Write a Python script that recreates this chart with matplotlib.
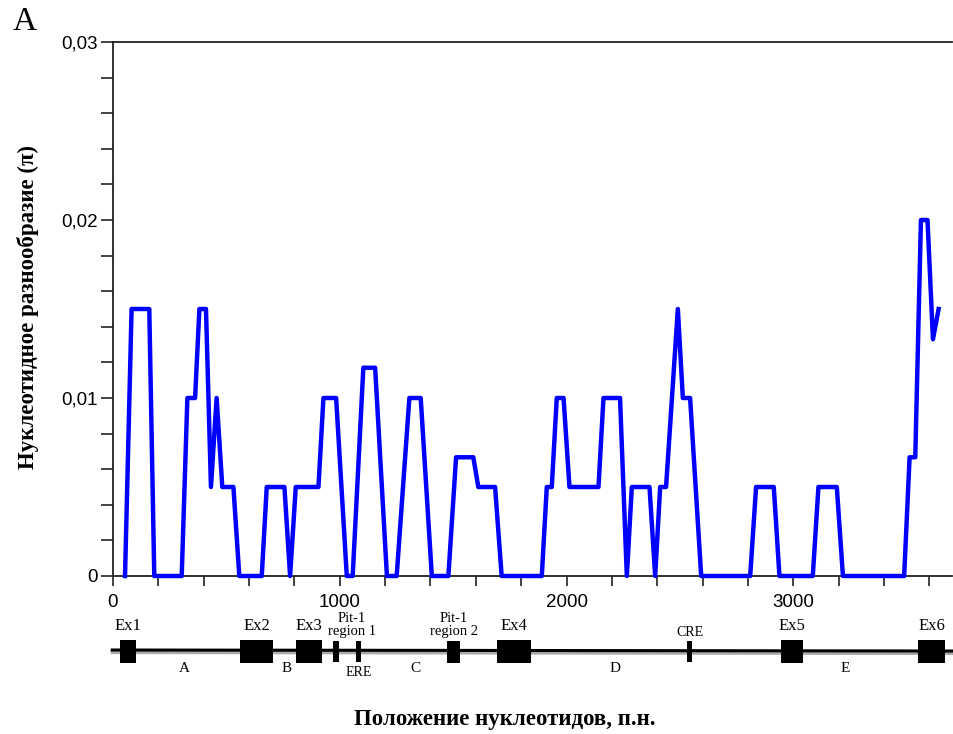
import matplotlib
matplotlib.use("Agg")
import matplotlib.pyplot as plt
from matplotlib.ticker import MultipleLocator, FuncFormatter

# ---- data ----
position = [53, 82, 160, 182, 303, 328, 362, 381, 410, 432, 457, 482, 531, 557,
            656, 678, 756, 781, 806, 906, 928, 984, 1031, 1057, 1104, 1156, 1208,
            1251, 1307, 1357, 1406, 1479, 1513, 1589, 1611, 1685, 1714, 1891, 1913,
            1935, 1957, 1987, 2013, 2141, 2163, 2236, 2266, 2288, 2366, 2391, 2413,
            2439, 2491, 2513, 2545, 2594, 2810, 2836, 2914, 2939, 3086, 3111, 3192,
            3219, 3489, 3513, 3538, 3563, 3592, 3616, 3641]
pi_values = [0, .015, .015, 0, 0, .01, .01, .015, .015, .005, .01, .005, .005, 0,
             0, .005, .005, 0, .005, .005, .01, .01, 0, 0, .0117, .0117, 0,
             0, .01, .01, 0, 0, .00667, .00667, .005, .005, 0, 0, .005,
             .005, .01, .01, .005, .005, .01, .01, 0, .005, .005, 0, .005,
             .005, .015, .01, .01, 0, 0, .005, .005, 0, 0, .005, .005,
             0, 0, .00667, .00667, .02, .02, .0133, .015]

# gene features: (name, start, end)
exons = [("Ex1", 31, 101), ("Ex2", 560, 707), ("Ex3", 806, 922),
         ("Ex4", 1693, 1842), ("Ex5", 2945, 3045), ("Ex6", 3552, 3670)]
pit_region2 = ("Pit-1\nregion 2", 1475, 1531)
small_elements = [("Pit-1\nregion 1", 972, 995), ("ERE", 1071, 1094), ("CRE", 2531, 2554)]
pit_region1_label_x = 1053
segments = [("A", 313), ("B", 765), ("C", 1332), ("D", 2215), ("E", 3229)]
gene_span = (-10, 3710)

W, H = 954, 734
fig = plt.figure(figsize=(W / 100, H / 100), dpi=100)

def frac(x0, y0, x1, y1):
    return [x0 / W, 1 - y1 / H, (x1 - x0) / W, (y1 - y0) / H]

ax = fig.add_axes(frac(113, 42, 952, 576))
ax.plot(position, pi_values, color="#0000ff", lw=3.2, solid_joinstyle="round",
        clip_on=False, zorder=3)
ax.set_xlim(0, 3700)
ax.set_ylim(0, 0.03)
ax.spines["right"].set_visible(False)
for s in ["left", "top", "bottom"]:
    ax.spines[s].set_linewidth(1.3)
    ax.spines[s].set_color("#222222")
ax.xaxis.set_major_locator(MultipleLocator(1000))
ax.xaxis.set_minor_locator(MultipleLocator(200))
ax.yaxis.set_major_locator(MultipleLocator(0.01))
ax.yaxis.set_minor_locator(MultipleLocator(0.002))
ax.yaxis.set_major_formatter(FuncFormatter(
    lambda v, p: "0" if abs(v) < 1e-9 else f"{v:.2f}".replace(".", ",")))
ax.xaxis.set_major_formatter(FuncFormatter(lambda v, p: f"{int(round(v))}"))
ax.tick_params(which="both", direction="out", color="#222222", width=1.2)
ax.tick_params(axis="y", which="both", length=9)
ax.tick_params(axis="x", which="both", length=7)
for lab in ax.get_xticklabels() + ax.get_yticklabels():
    lab.set_fontfamily("Liberation Sans")
    lab.set_fontsize(13.5)
ax.tick_params(axis="x", pad=6)
ax.tick_params(axis="y", pad=2)

# ---- gene diagram ----
ax2 = fig.add_axes(frac(113, 600, 952, 700))
ax2.set_xlim(ax.get_xlim())
ax2.set_ylim(700, 600)
ax2.axis("off")
ax2.plot(gene_span, [652, 653], color="#aaaaaa", lw=3, clip_on=False,
         solid_capstyle="butt")
ax2.plot(gene_span, [650, 651], color="black", lw=2.2, clip_on=False,
         solid_capstyle="butt")
serif = "Liberation Serif"
for name, s, e in exons:
    ax2.broken_barh([(s, e - s)], (640, 23), facecolors="black", zorder=3)
    ax2.text((s + e) / 2, 626, name, ha="center", va="center",
             fontfamily=serif, fontsize=12)
name, s, e = pit_region2
ax2.broken_barh([(s, e - s)], (641, 22), facecolors="black", zorder=3)
ax2.text((s + e) / 2, 625, name, ha="center", va="center", fontfamily=serif,
         fontsize=10.5, linespacing=1.0)
for name, s, e in small_elements:
    ax2.broken_barh([(s, e - s)], (641, 21), facecolors="black", zorder=3)
    if name == "ERE":
        ax2.text((s + e) / 2, 673, name, ha="center", va="center",
                 fontfamily=serif, fontsize=10)
    elif name == "CRE":
        ax2.text((s + e) / 2, 633, name, ha="center", va="center",
                 fontfamily=serif, fontsize=10)
    else:
        ax2.text(pit_region1_label_x, 625, name, ha="center", va="center",
                 fontfamily=serif, fontsize=10.5, linespacing=1.0)
for name, x in segments:
    ax2.text(x, 669, name, ha="center", va="center", fontfamily=serif, fontsize=11)

# ---- labels ----
fig.text(25 / W, 1 - 22 / H, "A", ha="center", va="center", fontfamily=serif,
         fontsize=24)
fig.text(28 / W, 1 - 307 / H, "Нуклеотидное разнообразие (π)", rotation=90,
         ha="center", va="center", fontfamily=serif, fontweight="bold", fontsize=16.5)
fig.text(505 / W, 1 - 720 / H, "Положение нуклеотидов, п.н.", ha="center",
         va="center", fontfamily=serif, fontweight="bold", fontsize=16.5)

fig.savefig("out.png", dpi=100)
